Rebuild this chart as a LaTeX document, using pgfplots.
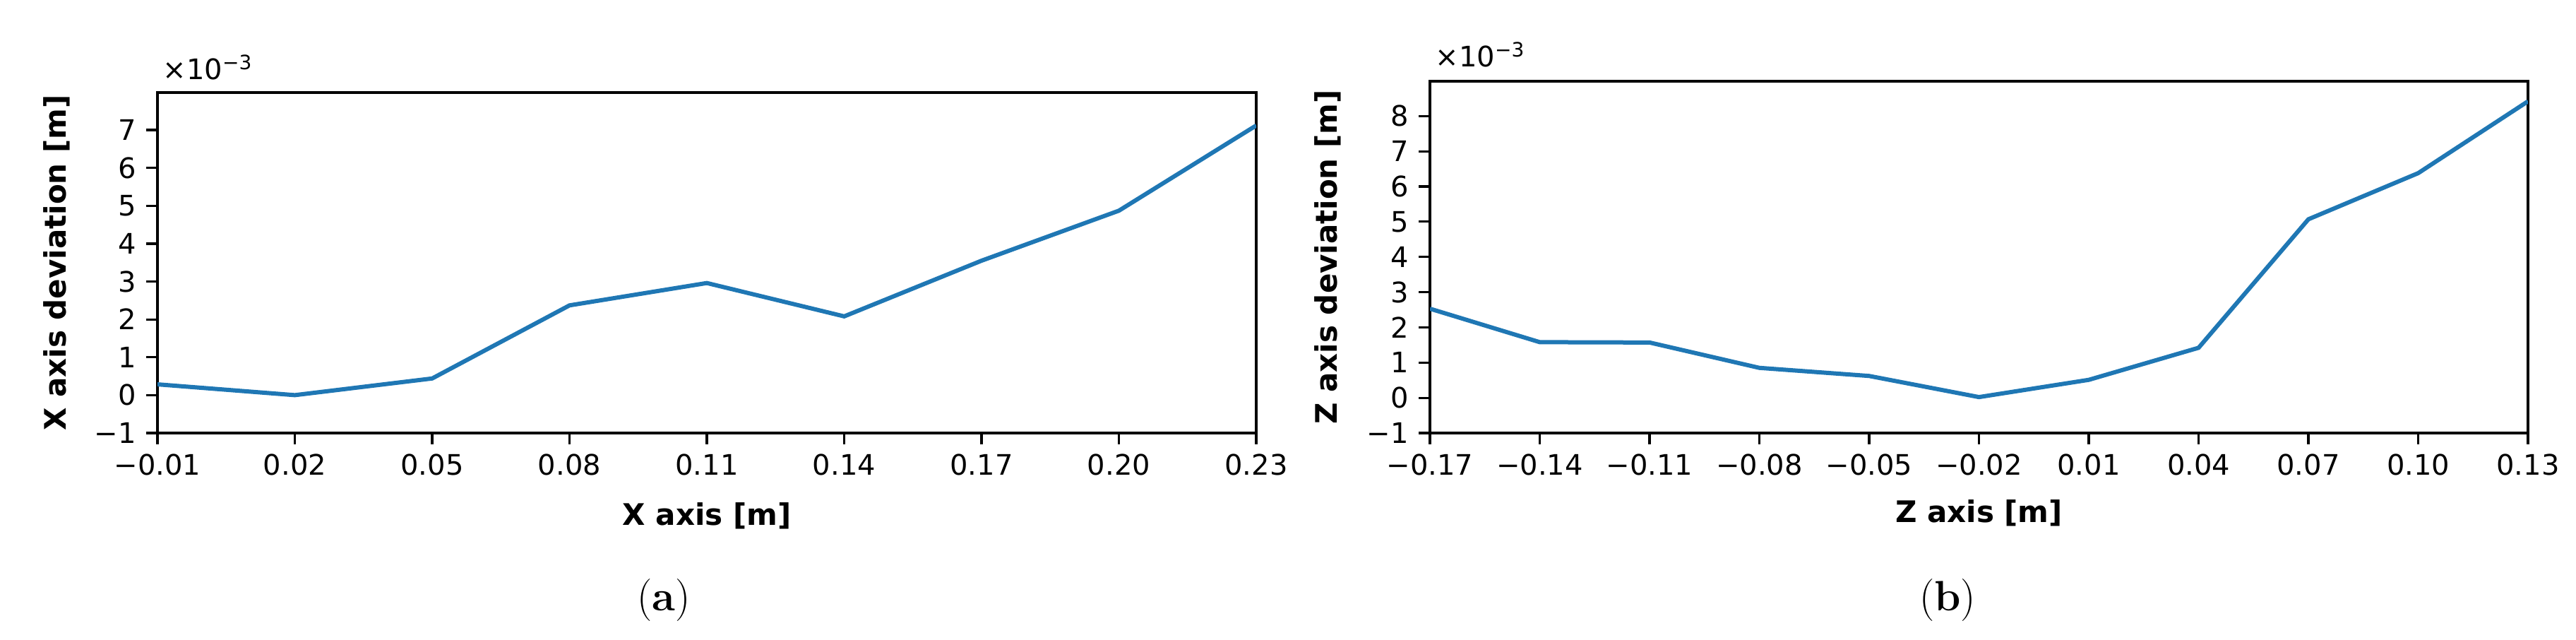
\documentclass[border=0pt]{standalone}
\usepackage{fontspec}
\setsansfont{DejaVu Sans}
\usepackage{pgfplots}
\pgfplotsset{compat=1.18}
\definecolor{mplblue}{HTML}{1F77B4}
\pgfplotsset{
  myaxis/.style={
    scale only axis,
    axis line style={line width=0.8pt},
    every tick/.style={black, line width=0.8pt},
    major tick length=4pt,
    tick align=outside,
    xtick pos=bottom, ytick pos=left,
    scaled ticks=false,
    ticklabel style={font=\sffamily\fontsize{10}{12}\selectfont},
  }
}
\begin{document}
\begin{tikzpicture}[x=1pt,y=1pt]
\useasboundingbox (0,0) rectangle (912,226.5);
% ---------------- (a)
\begin{axis}[myaxis,
  at={(55.75pt,73.25pt)}, anchor=south west,
  width=389pt, height=120.5pt,
  xmin=-0.01, xmax=0.23, ymin=-0.001, ymax=0.00799,
  xtick={-0.01,0.02,0.05,0.08,0.11,0.14,0.17,0.20,0.23},
  xticklabels={−0.01,0.02,0.05,0.08,0.11,0.14,0.17,0.20,0.23},
  ytick={-0.001,0,0.001,0.002,0.003,0.004,0.005,0.006,0.007},
  yticklabels={−1,0,1,2,3,4,5,6,7},
]
\addplot[mplblue, line width=1.5pt] coordinates {
  (-0.01,0.000285) (0.02,0.0) (0.05,0.00044) (0.08,0.00237) (0.11,0.00296)
  (0.14,0.00208) (0.17,0.00355) (0.20,0.00487) (0.23,0.00712)
};
\end{axis}
% ---------------- (b)
\begin{axis}[myaxis,
  at={(506.25pt,73.25pt)}, anchor=south west,
  width=388.75pt, height=124.5pt,
  xmin=-0.17, xmax=0.13, ymin=-0.001, ymax=0.00899,
  xtick={-0.17,-0.14,-0.11,-0.08,-0.05,-0.02,0.01,0.04,0.07,0.10,0.13},
  xticklabels={−0.17,−0.14,−0.11,−0.08,−0.05,−0.02,0.01,0.04,0.07,0.10,0.13},
  ytick={-0.001,0,0.001,0.002,0.003,0.004,0.005,0.006,0.007,0.008},
  yticklabels={−1,0,1,2,3,4,5,6,7,8},
]
\addplot[mplblue, line width=1.5pt] coordinates {
  (-0.17,0.00253) (-0.14,0.00158) (-0.11,0.00157) (-0.08,0.00085) (-0.05,0.00062)
  (-0.02,0.00002) (0.01,0.00051) (0.04,0.00142) (0.07,0.00507) (0.10,0.00638) (0.13,0.00842)
};
\end{axis}
% ---------------- labels
\begin{scope}[every node/.style={inner sep=0pt}]
\node[anchor=base west, font=\sffamily\fontsize{10}{12}\selectfont] at (57.5,198.25) {×10\textsuperscript{−3}};
\node[anchor=base west, font=\sffamily\fontsize{10}{12}\selectfont] at (508,202.75) {×10\textsuperscript{−3}};
\node[rotate=90, font=\sffamily\bfseries\fontsize{10.5}{12}\selectfont] at (20,133.5) {X axis deviation [m]};
\node[rotate=90, font=\sffamily\bfseries\fontsize{10.5}{12}\selectfont] at (470,135.5) {Z axis deviation [m]};
\node[anchor=base, font=\sffamily\bfseries\fontsize{10.5}{12}\selectfont] at (250.25,40.5) {X axis [m]};
\node[anchor=base, font=\sffamily\bfseries\fontsize{10.5}{12}\selectfont] at (700.6,41.5) {Z axis [m]};
\node[anchor=base, font=\rmfamily\fontsize{15}{18}\selectfont] at (235,10.25) {(\textbf{a})};
\node[anchor=base, font=\rmfamily\fontsize{15}{18}\selectfont] at (689.5,10.25) {(\textbf{b})};
\end{scope}
\end{tikzpicture}
\end{document}
